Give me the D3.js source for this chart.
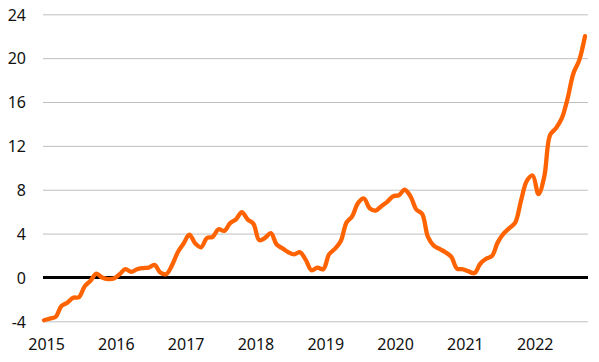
<!DOCTYPE html>
<html><head><meta charset="utf-8">
<script src="https://cdn.jsdelivr.net/npm/d3@7"></script>
<style>body{margin:0;background:#fff}svg{display:block}</style>
</head><body>
<script>
const values = [-3.9,-3.75,-3.6,-2.6,-2.3,-1.85,-1.8,-0.8,-0.3,0.35,0.0,-0.15,
-0.1,0.3,0.75,0.5,0.75,0.85,0.9,1.15,0.45,0.3,1.1,2.3,
3.1,3.9,3.1,2.75,3.6,3.7,4.4,4.25,4.95,5.3,5.95,5.3,
4.9,3.4,3.6,4.05,3.0,2.65,2.3,2.1,2.3,1.6,0.65,0.9,
0.75,2.1,2.6,3.3,5.0,5.6,6.8,7.2,6.3,6.1,6.5,6.9,
7.4,7.5,8.0,7.4,6.2,5.8,3.7,2.9,2.6,2.3,1.9,0.8,
0.75,0.55,0.4,1.25,1.7,1.95,3.2,4.0,4.5,5.0,7.0,8.8,
9.3,7.6,9.2,13.0,13.6,14.5,16.3,18.6,19.8,22.0];
const yearLabels = ["2015","2016","2017","2018","2019","2020","2021","2022"];
const yTicks = [-4,0,4,8,12,16,20,24];

const W=599,H=362;
const svg=d3.select("body").append("svg").attr("width",W).attr("height",H);
const x=d3.scaleLinear().domain([0,values.length-1]).range([44,585]);
const y=d3.scaleLinear().domain([-4,24]).range([321.3,14.3]);
const font="'Noto Sans', sans-serif";

const gy=svg.append("g").attr("transform","translate(43,0)")
  .call(d3.axisLeft(y).tickValues(yTicks).tickSize(-545).tickPadding(17).tickFormat(d=>String(d)));
gy.select(".domain").remove();
gy.selectAll(".tick line").attr("stroke","#bfbfbf").attr("stroke-width",1);
gy.selectAll(".tick text").attr("font-family",font).attr("font-size",16).attr("fill","#111").attr("dy","0.36em");

const gx=svg.append("g").attr("transform","translate(0,0)")
  .call(d3.axisBottom(x).tickValues(yearLabels.map((d,i)=>i*12+0.35)).tickSize(0).tickPadding(0)
    .tickFormat((d,i)=>yearLabels[i]));
gx.select(".domain").remove();
gx.selectAll(".tick text").attr("font-family",font).attr("font-size",16).attr("fill","#111").attr("y",350).attr("dy",0);

svg.append("line").attr("x1",43).attr("x2",588).attr("y1",y(0)).attr("y2",y(0))
  .attr("stroke","#000").attr("stroke-width",3);

svg.append("path").datum(values)
  .attr("d",d3.line().x((d,i)=>x(i)).y(d=>y(d)).curve(d3.curveCatmullRom.alpha(0.5)))
  .attr("fill","none").attr("stroke","#ff6200").attr("stroke-width",4.3).attr("stroke-linecap","round").attr("stroke-linejoin","round");
</script>
</body></html>
